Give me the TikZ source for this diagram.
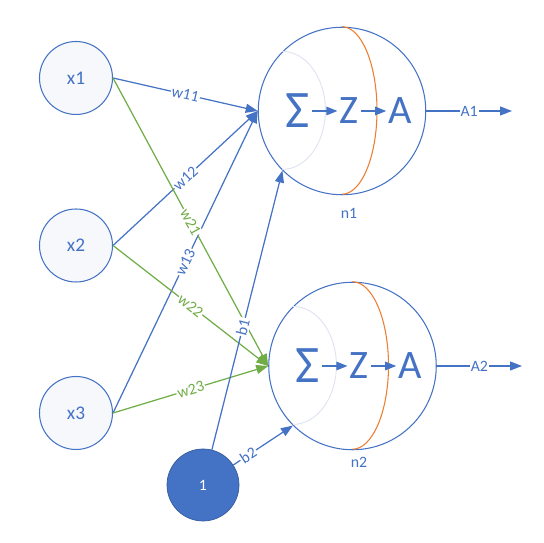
\documentclass[tikz,border=0pt]{standalone}
\usepackage{fontspec}
\setmainfont{Carlito}
\usepackage{tikz}
\usepackage{xcolor}
\usetikzlibrary{arrows.meta,positioning}
\definecolor{nnblue}{HTML}{4472C4}
\definecolor{nngreen}{HTML}{70AD47}
\definecolor{nnorange}{HTML}{ED7D31}
\definecolor{nnfaint}{HTML}{DDE3F0}
\definecolor{nnfill}{HTML}{F7F8FC}

\begin{document}
\begin{tikzpicture}[
  inputnode/.style={circle,draw=nnblue,line width=0.6pt,fill=nnfill,minimum size=1.46cm,inner sep=0pt,text=nnblue,font=\fontsize{11}{13}\selectfont},
  neuron/.style={circle,draw=nnblue,line width=0.6pt,fill=white,minimum size=3.35cm,inner sep=0pt},
  biasnode/.style={circle,draw=nnblue!80!black,fill=nnblue,minimum size=1.44cm,inner sep=0pt,text=white,font=\fontsize{9}{11}\selectfont},
  symb/.style={inner sep=1pt,text=nnblue,font=\fontsize{23}{26}\selectfont},
  nlab/.style={text=nnblue,font=\fontsize{9}{11}\selectfont},
  wlab/.style={sloped,fill=white,inner sep=0.6pt,font=\fontsize{9}{11}\selectfont},
  barrow/.style={-{Triangle[length=2.4mm,width=1.8mm]},line width=0.7pt,draw=nnblue},
  garrow/.style={-{Triangle[length=2.4mm,width=1.8mm]},line width=0.7pt,draw=nngreen},
  sarrow/.style={-{Triangle[length=2.2mm,width=1.7mm]},line width=0.7pt,draw=nnblue}
]
\useasboundingbox (0,0) rectangle (10.88,10.86);

% inputs and bias
\node[inputnode] (x1) at (1.52,9.30) {x1};
\node[inputnode] (x2) at (1.52,5.95) {x2};
\node[inputnode] (x3) at (1.52,2.60) {x3};
\node[biasnode] (bias) at (4.06,1.16) {1};

% neurons
\node[neuron] (n1) at (6.84,8.64) {};
\node[neuron] (n2) at (7.05,3.54) {};
\draw[nnfaint,line width=0.5pt] (n1.north west) arc[start angle=90,end angle=-90,x radius=0.86cm,y radius=1.18cm];
\draw[nnfaint,line width=0.5pt] (n2.north west) arc[start angle=90,end angle=-90,x radius=0.87cm,y radius=1.18cm];
\draw[nnorange,line width=0.6pt] (n1.north) arc[start angle=90,end angle=-90,x radius=0.70cm,y radius=1.675cm];
\draw[nnorange,line width=0.6pt] (n2.north) arc[start angle=90,end angle=-90,x radius=0.72cm,y radius=1.675cm];
\node[nlab] (n1lab) at (6.98,6.60) {n1};
\node[nlab] (n2lab) at (7.18,1.62) {n2};

\node[symb,font=\fontsize{30}{33}\selectfont] (s1) at (5.96,8.64) {Σ};
\node[symb] (z1) at (6.98,8.64) {Z};
\node[symb] (a1) at (8.00,8.64) {A};
\node[symb,font=\fontsize{30}{33}\selectfont] (s2) at (6.16,3.54) {Σ};
\node[symb] (z2) at (7.18,3.54) {Z};
\node[symb] (a2) at (8.20,3.54) {A};
\draw[sarrow] (s1) -- (z1);
\draw[sarrow] (z1) -- (a1);
\draw[sarrow] (s2) -- (z2);
\draw[sarrow] (z2) -- (a2);

\coordinate (out1) at (10.24,8.64);
\coordinate (out2) at (10.44,3.54);
\draw[barrow] (n1.east) -- node[wlab,text=nnblue] {A1} (out1);
\draw[barrow] (n2.east) -- node[wlab,text=nnblue] {A2} (out2);

% weights
\draw[barrow] (x1.east) -- node[wlab,text=nnblue] {w11} (n1.west);
\draw[barrow] (x2.east) -- node[wlab,text=nnblue] {w12} (n1.west);
\draw[barrow] (x3.east) -- node[wlab,text=nnblue] {w13} (n1.west);
\draw[garrow] (x1.east) -- node[wlab,text=nngreen] {w21} (n2.west);
\draw[garrow] (x2.east) -- node[wlab,text=nngreen] {w22} (n2.west);
\draw[garrow] (x3.east) -- node[wlab,text=nngreen] {w23} (n2.west);
\draw[barrow] (bias) -- node[wlab,pos=0.44,text=nnblue] {b1} (n1.south west);
\draw[barrow] (bias) -- node[wlab,pos=0.25,text=nnblue] {b2} (n2.south west);
\end{tikzpicture}
\end{document}
